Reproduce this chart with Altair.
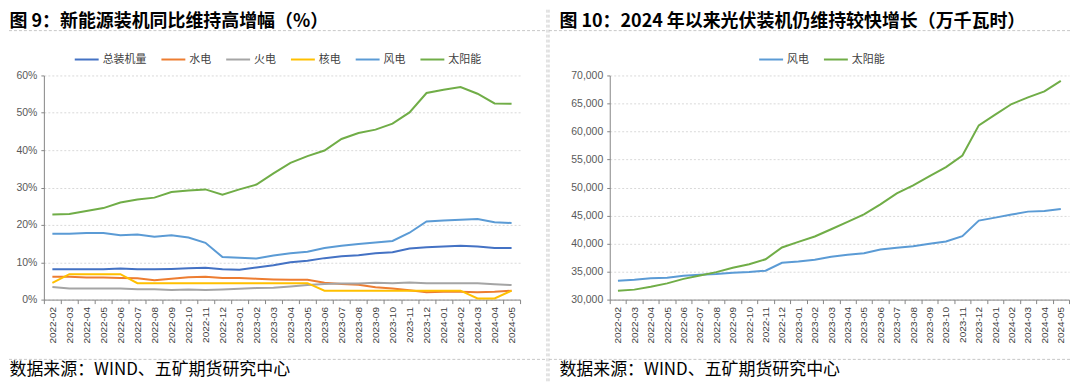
import altair as alt
import pandas as pd

# ---------------- data ----------------
months = ["2022-02", "2022-03", "2022-04", "2022-05", "2022-06", "2022-07", "2022-08",
          "2022-09", "2022-10", "2022-11", "2022-12", "2023-01", "2023-02", "2023-03",
          "2023-04", "2023-05", "2023-06", "2023-07", "2023-08", "2023-09", "2023-10",
          "2023-11", "2023-12", "2024-01", "2024-02", "2024-03", "2024-04", "2024-05"]

left_names = ["总装机量", "水电", "火电", "核电", "风电", "太阳能"]
left_colors = ["#4472C4", "#ED7D31", "#A5A5A5", "#FFC000", "#5B9BD5", "#70AD47"]

total_yoy = [8.1, 8.1, 8.1, 8.1, 8.3, 8.1, 8.1, 8.2, 8.4, 8.5, 8.1, 8.0,
             8.6, 9.2, 10.0, 10.4, 11.1, 11.6, 11.9, 12.4, 12.7, 13.7, 14.0,
             14.2, 14.4, 14.2, 13.8, 13.8]
hydro_yoy = [6.1, 6.1, 5.9, 5.9, 5.8, 5.7, 5.2, 5.6, 6.0, 6.1, 5.8, 5.8,
             5.6, 5.4, 5.3, 5.3, 4.5, 4.2, 4.0, 3.3, 3.0, 2.5, 2.0,
             2.1, 2.1, 2.0, 2.1, 2.4]
thermal_yoy = [3.4, 3.0, 3.0, 3.0, 3.0, 2.8, 2.8, 2.6, 2.7, 2.6, 2.7, 2.9,
               3.1, 3.2, 3.5, 3.9, 4.2, 4.3, 4.3, 4.5, 4.4, 4.6, 4.4,
               4.4, 4.4, 4.4, 4.1, 3.9]
nuclear_yoy = [4.5, 6.8, 6.8, 6.8, 6.8, 4.4, 4.4, 4.4, 4.4, 4.4, 4.4, 4.4,
               4.4, 4.4, 4.4, 4.4, 2.4, 2.4, 2.4, 2.4, 2.4, 2.4, 2.4,
               2.4, 2.4, 0.3, 0.3, 2.4]
wind_yoy = [17.6, 17.6, 17.8, 17.8, 17.2, 17.4, 16.8, 17.2, 16.6, 15.2, 11.4, 11.2,
            11.0, 11.8, 12.4, 12.8, 13.8, 14.4, 14.9, 15.3, 15.7, 17.9, 20.9,
            21.2, 21.4, 21.6, 20.7, 20.5]
solar_yoy = [22.8, 22.9, 23.7, 24.5, 26.0, 26.8, 27.3, 28.8, 29.2, 29.5, 28.1, 29.5,
             30.8, 33.8, 36.6, 38.4, 39.9, 43.0, 44.6, 45.5, 47.1, 50.1, 55.3,
             56.2, 56.9, 55.1, 52.5, 52.4]

right_names = ["风电", "太阳能"]
right_colors = ["#5B9BD5", "#70AD47"]
wind_cap = [33380, 33550, 33790, 33900, 34260, 34440, 34560, 34800, 34920, 35150, 36580, 36800,
            37110, 37640, 38000, 38290, 38950, 39240, 39540, 39950, 40370, 41310, 44100,
            44630, 45170, 45700, 45820, 46170]
solar_cap = [31600, 31780, 32300, 32900, 33700, 34300, 34900, 35700, 36300, 37200, 39300, 40300,
             41260, 42560, 43860, 45220, 47000, 48960, 50380, 52040, 53640, 55710, 61100,
             63000, 64900, 66080, 67150, 69040]

left_y_ticks = [0, 10, 20, 30, 40, 50, 60]
right_y_ticks = [30000, 35000, 40000, 45000, 50000, 55000, 60000, 65000, 70000]

title_left = "图 9：新能源装机同比维持高增幅（%）"
title_right = "图 10：2024 年以来光伏装机仍维持较快增长（万千瓦时）"
source_text = "数据来源：WIND、五矿期货研究中心"

# ---------------- tables ----------------
def long_table(names, series):
    rows = []
    for n, vals in zip(names, series):
        for m, v in zip(months, vals):
            rows.append({"month": m, "series": n, "value": v})
    return pd.DataFrame(rows)

df_left = long_table(left_names, [total_yoy, hydro_yoy, thermal_yoy, nuclear_yoy, wind_yoy, solar_yoy])
df_right = long_table(right_names, [wind_cap, solar_cap])
one = pd.DataFrame({"k": [0]})

# ---------------- style ----------------
FONT_CJK = "Noto Sans CJK SC"
FONT_NUM = "Liberation Sans"
W1, W2, H = 478, 461, 225
SEP = "#C8C8C8"


def x_enc(title_x):
    return alt.X(
        "month:O", sort=months, bandPosition=0.5,
        scale=alt.Scale(type="band", paddingInner=0, paddingOuter=0),
        axis=alt.Axis(
            title=source_text, titleX=title_x, titleY=70, titleAngle=0,
            titleAlign="left", titleBaseline="middle", titleFontSize=17,
            titleFont=FONT_CJK, titleFontWeight="normal", titleColor="#000000",
            labelAngle=-90, labelFontSize=10, labelFont=FONT_NUM, labelColor="#404040",
            labelPadding=3, labelOverlap=False, tickBand="extent", tickSize=4,
            tickColor="#868686", domainColor="#868686", grid=False))


def y_axis(title, title_x, values, **kw):
    return alt.Axis(
        title=title, titleX=title_x, titleY=-54, titleAngle=0, titleAlign="left",
        titleBaseline="middle", titleFontSize=18, titleFont=FONT_CJK,
        titleFontWeight="bold", titleColor="#000000",
        values=values, labelFontSize=10.5, labelFont=FONT_NUM, labelColor="#595959",
        labelPadding=4, tickSize=3, tickColor="#868686", domainColor="#868686",
        grid=True, gridColor="#D9D9D9", gridDash=[2, 2], **kw)


def legend(lx):
    return alt.Legend(
        orient="none", legendX=lx, legendY=-29, direction="horizontal", title=None,
        symbolType="stroke", symbolSize=576, symbolStrokeWidth=2,
        labelFontSize=11, labelFont=FONT_CJK, labelColor="#404040",
        columnPadding=11, labelOffset=3)


def hrule(x1, x2, y):
    return alt.Chart(one).mark_rule(color=SEP, strokeDash=[3, 2], strokeWidth=1).encode(
        x=alt.value(x1), x2=alt.value(x2), y=alt.value(y))


def vrule(x, y1, y2):
    return alt.Chart(one).mark_rule(color=SEP, strokeDash=[3, 2], strokeWidth=1).encode(
        x=alt.value(x), y=alt.value(y1), y2=alt.value(y2))


left_lines = alt.Chart(df_left).mark_line(strokeWidth=2).encode(
    x=x_enc(-35),
    y=alt.Y("value:Q", scale=alt.Scale(domain=[0, 60], nice=False),
            axis=y_axis(title_left, -35, left_y_ticks, labelExpr="datum.value + '%'")),
    color=alt.Color("series:N", sort=left_names,
                    scale=alt.Scale(domain=left_names, range=left_colors),
                    legend=legend(30)),
)

left = alt.layer(
    hrule(-35, 505, -45), hrule(-35, 505, 285), vrule(505, -66, 307), left_lines
).properties(width=W1, height=H)

right_lines = alt.Chart(df_right).mark_line(strokeWidth=2).encode(
    x=x_enc(-51),
    y=alt.Y("value:Q", scale=alt.Scale(domain=[30000, 70000], nice=False),
            axis=y_axis(title_right, -51, right_y_ticks, format=",d")),
    color=alt.Color("series:N", sort=right_names,
                    scale=alt.Scale(domain=right_names, range=right_colors),
                    legend=legend(149)),
)

right = alt.layer(
    hrule(-61, W2 + 2, -45), hrule(-61, W2 + 2, 285), vrule(-61, -66, 307), right_lines
).properties(width=W2, height=H)

chart = alt.hconcat(left, right, spacing=0).resolve_scale(
    color="independent", x="independent", y="independent"
).properties(padding=0, background="white").configure_view(strokeWidth=0)

chart.save("out.html", embed_options={"renderer": "svg", "actions": False})
